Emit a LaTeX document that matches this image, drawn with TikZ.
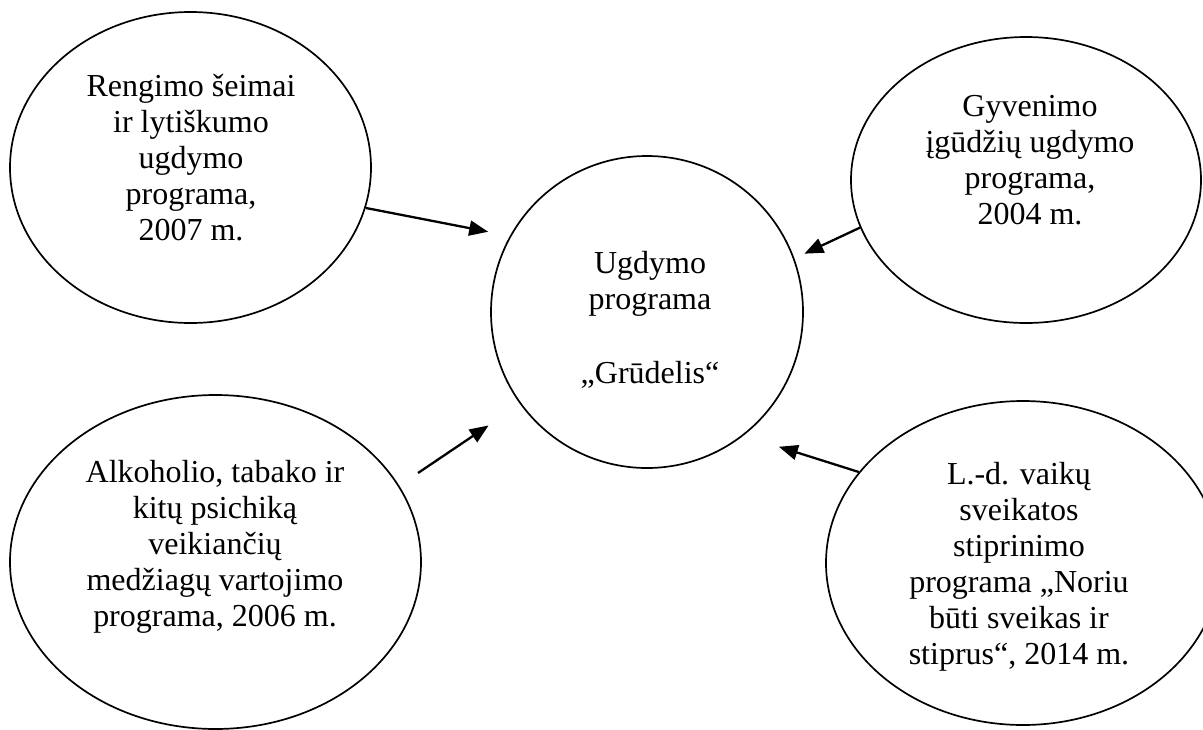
\documentclass[tikz,border=0pt]{standalone}
\usepackage{fontspec}
\setmainfont{Liberation Serif}
\usetikzlibrary{shapes.geometric, arrows.meta, positioning}

\begin{document}
\begin{tikzpicture}[x=1pt, y=-1pt,
    bubble/.style={draw, ellipse, line width=1.7pt, inner sep=0pt},
    bubbletext/.style={align=center, font=\fontsize{32}{36}\selectfont},
    feed/.style={line width=2.3pt, -{Triangle[length=19pt, width=15pt]}}]
  \useasboundingbox (0,0) rectangle (1203,729);

  % central programme
  \node[bubble, minimum width=312pt, minimum height=312pt] (grudelis) at (647,312) {};
  \node[bubbletext] (grudelis-txt) at (650,320) {Ugdymo\\programa\\[38pt]„Grūdelis“};

  % the four source programmes
  \node[bubble, minimum width=361pt, minimum height=311pt] (rengimo) at (190.5,167.5) {};
  \node[bubbletext] (rengimo-txt) at (191,158)
    {Rengimo šeimai\\ir lytiškumo\\ugdymo\\programa,\\2007 m.};

  \node[bubble, minimum width=350pt, minimum height=286pt] (gyvenimo) at (1026,180) {};
  \node[bubbletext] (gyvenimo-txt) at (1030,160)
    {Gyvenimo\\įgūdžių ugdymo\\programa,\\2004 m.};

  \node[bubble, minimum width=411pt, minimum height=334pt] (alkoholis) at (215.5,562) {};
  \node[bubbletext] (alkoholis-txt) at (215,547)
    {Alkoholio, tabako ir\\kitų psichiką\\veikiančių\\medžiagų vartojimo\\programa, 2006 m.};

  \node[bubble, minimum width=394pt, minimum height=324pt] (sveikata) at (1023,563) {};
  \node[bubbletext] (sveikata-txt) at (1019,567)
    {L.-d. vaikų\\sveikatos\\stiprinimo\\programa „Noriu\\būti sveikas ir\\stiprus“, 2014 m.};

  % arrows into the centre
  \coordinate (alkoholis-tail) at (418,473);
  \draw[feed, shorten >=22pt] (rengimo.-13) -- (grudelis.151);
  \draw[feed, shorten >=11pt] (gyvenimo.196) -- (grudelis.20);
  \draw[feed, shorten >=38pt] (alkoholis-tail) -- (grudelis.216);
  \draw[feed, shorten >=37pt] (sveikata.151) -- (grudelis.-52);
\end{tikzpicture}
\end{document}
